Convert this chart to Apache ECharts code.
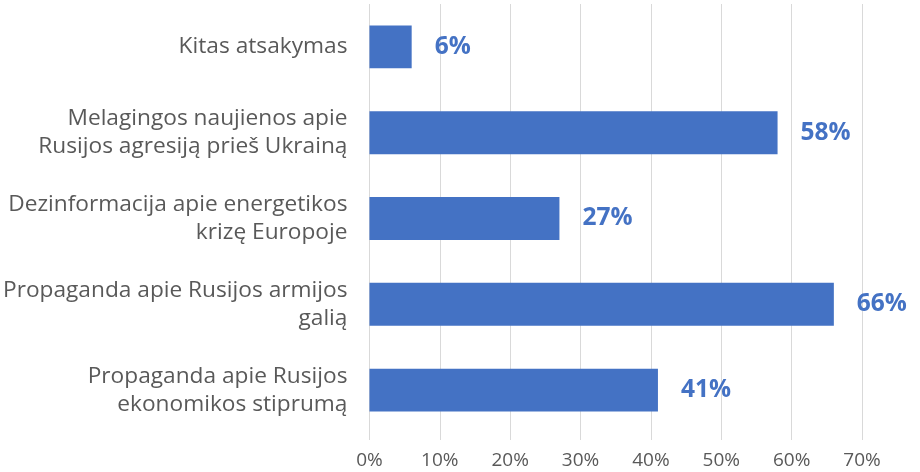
<!DOCTYPE html>
<html><head><meta charset="utf-8">
<script src="https://cdn.jsdelivr.net/npm/echarts@6/dist/echarts.min.js"></script>
<style>html,body{margin:0;padding:0;background:#fff}#c{width:920px;height:472px}</style>
</head><body><div id="c"></div>
<script>
const categories = [
  "Kitas atsakymas",
  "Melagingos naujienos apie\nRusijos agresiją prieš Ukrainą",
  "Dezinformacija apie energetikos\nkrizę Europoje",
  "Propaganda apie Rusijos armijos\ngalią",
  "Propaganda apie Rusijos\nekonomikos stiprumą"
];
const values = [6, 58, 27, 66, 41];
const tickMin = 0, tickMax = 70, tickStep = 10;

const chart = echarts.init(document.getElementById('c'), null, {renderer: 'canvas'});
chart.setOption({
  animation: false,
  grid: {left: 369, right: 58, top: 4, bottom: 39, containLabel: false},
  xAxis: {
    type: 'value', min: tickMin, max: tickMax, interval: tickStep,
    axisLine: {show: false},
    axisTick: {show: true, length: 7, lineStyle: {color: '#d9d9d9'}},
    splitLine: {show: true, lineStyle: {color: '#d9d9d9', width: 1}},
    axisLabel: {formatter: '{value}%', color: '#595959', fontSize: 19, margin: 18, fontFamily: 'Open Sans'}
  },
  yAxis: {
    type: 'category', data: categories, inverse: true,
    axisLine: {show: false}, axisTick: {show: false},
    axisLabel: {color: '#595959', fontSize: 22.7, lineHeight: 28, margin: 22, align: 'right', fontFamily: 'Open Sans'}
  },
  series: [{
    type: 'bar', data: values, barCategoryGap: '50%',
    itemStyle: {color: '#4472C4'},
    label: {show: true, position: 'right', distance: 23, formatter: '{c}%', color: '#4472C4', fontSize: 24.5, fontWeight: 'bold', fontFamily: 'Open Sans'}
  }]
});
</script></body></html>
